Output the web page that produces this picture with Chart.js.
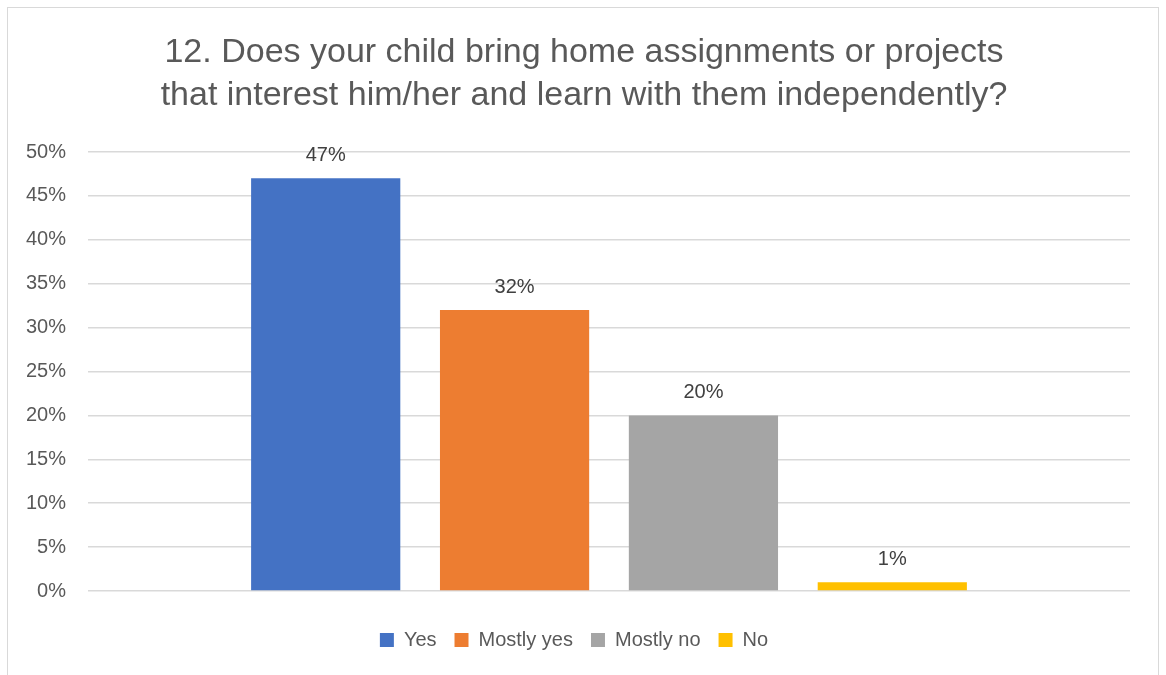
<!DOCTYPE html>
<html>
<head>
    <meta charset="utf-8">
    <title>Assignments chart</title>
    <script src="https://cdn.jsdelivr.net/npm/chart.js"></script>
    <style>
        html, body {
            margin: 0;
            padding: 0;
            background: #ffffff;
            overflow: hidden;
        }
        .box {
            position: absolute;
            left: 7px;
            top: 7px;
            width: 1152px;
            height: 680px;
            border: 1px solid #d9d9d9;
            box-sizing: border-box;
        }
        canvas {
            display: block;
        }
    </style>
</head>
<body>
    <div class="box">
        <canvas id="barChart" width="1150" height="678"></canvas>
    </div>

    <script>
      // Answers and their shares
      const answers = ['Yes', 'Mostly yes', 'Mostly no', 'No'];
      const shares = [0.47, 0.32, 0.20, 0.01];
      const colours = ['#4472c4', '#ed7d31', '#a5a5a5', '#ffc000'];
      const yTicks = [0, 0.05, 0.10, 0.15, 0.20, 0.25, 0.30, 0.35, 0.40, 0.45, 0.50];
      const titleLines = [
        '12. Does your child bring home assignments or projects',
        'that interest him/her and learn with them independently?'
      ];

      const fontName = '"Liberation Sans", "DejaVu Sans", sans-serif';
      const grey = '#595959';

      // title centred on the whole canvas (the plot itself is off-centre)
      const centredTitle = {
        id: 'centredTitle',
        afterDraw(chart) {
          const ctx = chart.ctx;
          ctx.save();
          ctx.font = '34px ' + fontName;
          ctx.fillStyle = grey;
          ctx.textAlign = 'center';
          ctx.textBaseline = 'middle';
          titleLines.forEach((line, i) => {
            ctx.fillText(line, chart.width / 2 + 1, 45 + i * 43);
          });
          ctx.restore();
        }
      };

      // value labels above each bar
      const valueLabels = {
        id: 'valueLabels',
        afterDatasetsDraw(chart) {
          const ctx = chart.ctx;
          ctx.save();
          ctx.font = '20px ' + fontName;
          ctx.fillStyle = '#404040';
          ctx.textAlign = 'center';
          ctx.textBaseline = 'middle';
          chart.data.datasets.forEach((ds, i) => {
            const bar = chart.getDatasetMeta(i).data[0];
            ctx.fillText(Math.round(ds.data[0] * 100) + '%', bar.x, bar.y - 23);
          });
          ctx.restore();
        }
      };

      const ctx = document.getElementById('barChart').getContext('2d');
      new Chart(ctx, {
        type: 'bar',
        data: {
          labels: [''],
          datasets: answers.map((name, i) => ({
            label: name,
            data: [shares[i]],
            backgroundColor: colours[i],
            categoryPercentage: 0.725,
            barPercentage: 0.79
          }))
        },
        options: {
          responsive: false,
          animation: false,
          layout: {
            padding: { left: 10, right: 28, top: 144, bottom: 26 }
          },
          plugins: {
            title: { display: false },
            legend: {
              position: 'bottom',
              labels: {
                color: grey,
                boxWidth: 14,
                boxHeight: 14,
                padding: 18,
                font: { family: fontName, size: 20 }
              }
            },
            tooltip: { enabled: false }
          },
          scales: {
            x: {
              grid: { display: false },
              border: { display: false },
              ticks: { display: false },
              afterFit: axis => { axis.height = 21; }
            },
            y: {
              min: 0,
              max: 0.5,
              afterBuildTicks: axis => {
                axis.ticks = yTicks.map(v => ({ value: v }));
              },
              afterFit: axis => { axis.width = 70; },
              grid: { color: '#d9d9d9', lineWidth: 1.5, drawTicks: false },
              border: { display: false },
              ticks: {
                color: grey,
                padding: 22,
                font: { family: fontName, size: 20 },
                callback: v => Math.round(v * 100) + '%'
              }
            }
          }
        },
        plugins: [valueLabels, centredTitle]
      });
    </script>
</body>
</html>
